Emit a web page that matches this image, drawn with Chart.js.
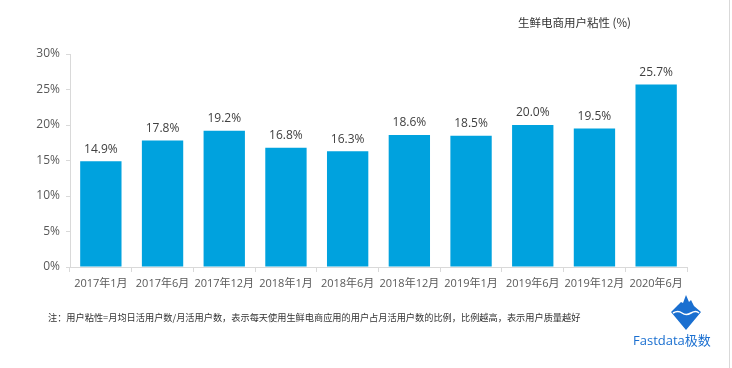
<!DOCTYPE html>
<html><head><meta charset="utf-8">
<script src="https://cdn.jsdelivr.net/npm/chart.js@4/dist/chart.umd.min.js"></script>
<style>
html,body{margin:0;padding:0;background:#fff;}
#wrap{position:relative;width:732px;height:368px;overflow:hidden;}
#c{position:absolute;left:0;top:0;}
.t{position:absolute;font-family:"Noto Sans CJK SC","Open Sans",sans-serif;white-space:nowrap;}
</style></head>
<body><div id="wrap">
<canvas id="c" width="732" height="368"></canvas>
<div class="t" style="left:518px;top:14px;font-size:11.5px;color:#333;">生鲜电商用户粘性 (%)</div>
<div class="t" style="left:48px;top:310px;font-size:9.2px;color:#333;">注：用户粘性=月均日活用户数/月活用户数，表示每天使用生鲜电商应用的用户占月活用户数的比例，比例越高，表示用户质量越好</div>
<svg style="position:absolute;left:668px;top:293px" width="36" height="40" viewBox="0 0 36 40">
<path d="M18 2 L21 9 L23 7 L26 13 L33 19 L18 37 L3 19 L10 12 L13 9 L15 10 Z" fill="#1a6fd0"/>
<path d="M5 20 Q10 17 14 20 T23 20 T31 20" stroke="#fff" stroke-width="1.5" fill="none"/>
</svg>
<div class="t" style="left:633px;top:330px;font-size:13px;color:#1a6fd0;font-family:'Open Sans','Noto Sans CJK SC',sans-serif;">Fastdata极数</div>
<div style="position:absolute;left:729px;top:0;width:1px;height:368px;background:#d9d9d9;"></div>
</div>
<script>
const categories = ['2017年1月','2017年6月','2017年12月','2018年1月','2018年6月','2018年12月','2019年1月','2019年6月','2019年12月','2020年6月'];
const stickiness = [14.9, 17.8, 19.2, 16.8, 16.3, 18.6, 18.5, 20.0, 19.5, 25.7];
const yTicks = [0, 5, 10, 15, 20, 25, 30];

const FONT = '"Open Sans","Noto Sans CJK SC",sans-serif';

const valueLabels = {
  id: 'valueLabels',
  afterDatasetsDraw(chart) {
    const ctx = chart.ctx;
    const meta = chart.getDatasetMeta(0);
    ctx.save();
    ctx.font = '12px ' + FONT;
    ctx.fillStyle = '#404040';
    ctx.textAlign = 'center';
    ctx.textBaseline = 'bottom';
    meta.data.forEach((bar, i) => {
      ctx.fillText(stickiness[i].toFixed(1) + '%', bar.x, bar.y - 6);
    });
    ctx.restore();
  }
};

new Chart(document.getElementById('c'), {
  type: 'bar',
  data: {
    labels: categories,
    datasets: [{
      data: stickiness,
      backgroundColor: '#00a2de',
      borderWidth: 0,
      barPercentage: 0.67,
      categoryPercentage: 1.0
    }]
  },
  options: {
    responsive: false,
    animation: false,
    devicePixelRatio: 1,
    layout: { padding: { left: 0, right: 45, top: 54, bottom: 0 } },
    plugins: { legend: { display: false }, tooltip: { enabled: false } },
    scales: {
      x: {
        afterFit(s) { s.height = 101; },
        grid: { display: true, drawOnChartArea: false, drawTicks: true, tickLength: 5, color: '#d9d9d9', offset: true },
        border: { display: true, color: '#d9d9d9' },
        ticks: { color: '#595959', font: { size: 11, family: FONT }, padding: 5, maxRotation: 0, autoSkip: false }
      },
      y: {
        min: 0, max: 30,
        afterFit(s) { s.width = 70; },
        afterBuildTicks(s) { s.ticks = yTicks.map(v => ({ value: v })); },
        grid: { display: true, drawOnChartArea: false, drawTicks: true, tickLength: 4, color: '#d9d9d9' },
        border: { display: true, color: '#d9d9d9' },
        ticks: { color: '#595959', font: { size: 12, family: FONT }, padding: 6, callback: v => v + '%' }
      }
    }
  },
  plugins: [valueLabels]
});
</script>
</body></html>
